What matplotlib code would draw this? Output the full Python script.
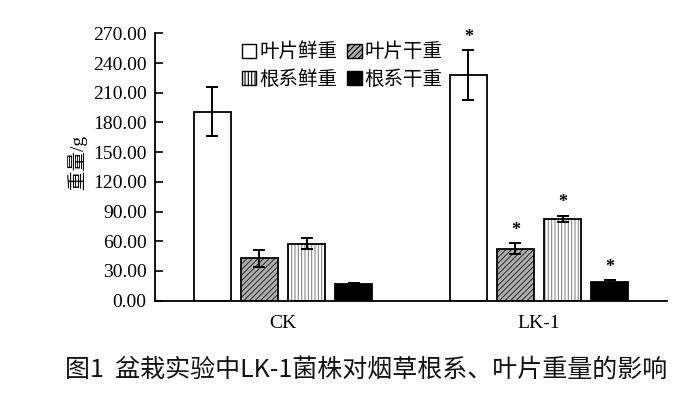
import numpy as np
import matplotlib.pyplot as plt
from matplotlib.patches import Patch

plt.rcParams['font.family'] = ['Liberation Serif', 'Noto Sans CJK SC']
plt.rcParams['hatch.linewidth'] = 0.8

# data
groups = ['CK', 'LK-1']
series = ['叶片鲜重', '叶片干重', '根系鲜重', '根系干重']
means = {
    '叶片鲜重': [191, 228],
    '叶片干重': [43, 52.5],
    '根系鲜重': [57.5, 82.5],
    '根系干重': [16.5, 19],
}
errs = {
    '叶片鲜重': [25, 25],
    '叶片干重': [8.5, 5.5],
    '根系鲜重': [5.5, 3.5],
    '根系干重': [1, 1.5],
}
signif = {
    '叶片鲜重': [False, True],
    '叶片干重': [False, True],
    '根系鲜重': [False, True],
    '根系干重': [False, True],
}
yticks = [0, 30, 60, 90, 120, 150, 180, 210, 240, 270]

# fill, hatch, hatch colour per series
styles = {
    '叶片鲜重': ('white', None, 'black'),
    '叶片干重': ('#b0b0b0', '//////', '#333333'),
    '根系鲜重': ('white', '|||||', '#888888'),
    '根系干重': ('black', None, 'black'),
}

fig = plt.figure(figsize=(7, 3.99), dpi=100)
ax = fig.add_axes([155 / 700, 1 - 300.7 / 399, 512 / 700, 267.4 / 399])

x = np.arange(len(groups))
width = 0.145
step = 0.184
offsets = (np.arange(len(series)) - 1.5) * step

for i, s in enumerate(series):
    fc, hatch, hc = styles[s]
    xs = x + offsets[i]
    ax.bar(xs, means[s], width, color=fc, hatch=hatch, edgecolor=hc, linewidth=0, zorder=2)
    ax.bar(xs, means[s], width, fill=False, edgecolor='black', linewidth=1.3, zorder=3)
    ax.errorbar(xs, means[s], yerr=errs[s], fmt='none', ecolor='black',
                elinewidth=1.4, capsize=4.5, capthick=1.4, zorder=4)
    for j in range(len(groups)):
        if signif[s][j]:
            ax.annotate('*', (xs[j], means[s][j] + errs[s][j]), xytext=(0, 3),
                        textcoords='offset points', ha='center', va='bottom',
                        fontsize=13, fontweight='bold')

ax.set_xlim(-0.5, 1.5)
ax.set_ylim(0, 270)
ax.set_yticks(yticks)
ax.set_yticklabels([f'{v:.2f}' for v in yticks], fontsize=14)
ax.set_xticks(x)
ax.set_xticklabels(groups, fontsize=14)
ax.tick_params(axis='y', direction='in', length=6, width=1.2, pad=6)
ax.tick_params(axis='x', length=0, pad=10)
for side in ['top', 'right']:
    ax.spines[side].set_visible(False)
ax.spines['left'].set_linewidth(1.3)
ax.spines['bottom'].set_linewidth(1.3)

fig.text(77 / 700, 1 - 162 / 399, '重量/g', rotation=90, ha='center', va='center', fontsize=14)

# legend, filled column-wise
handles = []
order = ['叶片鲜重', '根系鲜重', '叶片干重', '根系干重']
for s in order:
    fc, hatch, hc = styles[s]
    handles.append(Patch(facecolor=fc, hatch=hatch, edgecolor='black', linewidth=1.0, label=s))
ax.legend(handles=handles, ncol=2, frameon=False, fontsize=14,
          loc='upper left', bbox_to_anchor=(232 / 700, 1 - 33 / 399),
          bbox_transform=fig.transFigure, handlelength=0.75, handleheight=0.75,
          handletextpad=0.15, columnspacing=0.5, labelspacing=0.45, borderpad=0)

fig.text(366 / 700, 1 - 370 / 399, '图1  盆栽实验中LK-1菌株对烟草根系、叶片重量的影响',
         ha='center', va='center', fontsize=18, fontweight='medium',
         family=['Noto Sans CJK SC'], color='#111111')

fig.savefig('out.png', dpi=100)
